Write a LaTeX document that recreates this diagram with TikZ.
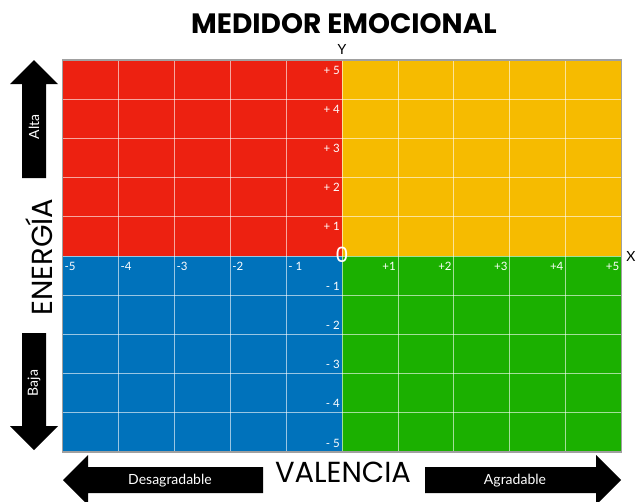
\documentclass[tikz,border=0pt]{standalone}
\usepackage{fontspec}
\setmainfont{Lato}
\newfontfamily\pop{Poppins}
\definecolor{qred}{RGB}{237,33,17}
\definecolor{qyel}{RGB}{246,187,0}
\definecolor{qblu}{RGB}{0,114,187}
\definecolor{qgrn}{RGB}{27,176,0}
\definecolor{qbor}{RGB}{160,160,160}
\tikzset{
  gridline/.style={white, opacity=0.6, line width=0.8pt},
  numlab/.style={white, font=\fontsize{11.5}{11.5}\selectfont, inner sep=0pt},
  bigarrow/.style={fill=black, draw=none},
  arrlab/.style={white, font=\fontsize{14}{14}\selectfont, inner sep=0pt},
  axlab/.style={black, font=\pop\fontsize{29}{29}\selectfont, inner sep=0pt}
}
\begin{document}
\begin{tikzpicture}[x=1pt,y=-1pt]
\useasboundingbox (0,0) rectangle (636,501);
\fill[white] (0,0) rectangle (636,501);
% quadrants
\fill[qred] (62.5,60) rectangle (342,256);
\fill[qyel] (342,60) rectangle (621.5,256);
\fill[qblu] (62.5,256) rectangle (342,452);
\fill[qgrn] (342,256) rectangle (621.5,452);
% grid
\foreach \i in {1,...,9} {
  \draw[gridline] ({62.5+55.9*\i},60) -- ({62.5+55.9*\i},452);
  \draw[gridline] (62.5,{60+39.2*\i}) -- (621.5,{60+39.2*\i});
}
\draw[qbor, line width=1.2pt] (62.5,60) rectangle (621.5,452);
% y labels
\foreach \k/\t in {0/+ 5,1/+ 4,2/+ 3,3/+ 2,4/+ 1} {
  \node[numlab, anchor=east] (yp\k) at (340,{70+39.2*\k}) {\t};
}
\foreach \k/\t in {1/- 1,2/- 2,3/- 3,4/- 4,5/- 5} {
  \node[numlab, anchor=east] (ym\k) at (340,{256+39.2*\k-9}) {\t};
}
% x labels
\foreach \k/\t in {0/-5,1/-4,2/-3,3/-2,4/- 1} {
  \node[numlab, anchor=west] (xm\k) at ({64.5+55.9*\k},266) {\t};
}
\foreach \k/\t in {1/+1,2/+2,3/+3,4/+4,5/+5} {
  \node[numlab, anchor=east] (xp\k) at ({342+55.9*\k-2},266) {\t};
}
\node[white, font=\pop\fontsize{21}{21}\selectfont, inner sep=0pt] (zero) at (342,255) {0};
\node[font=\fontsize{14}{14}\selectfont, inner sep=0pt] (xl) at (631,256) {X};
\node[font=\fontsize{14}{14}\selectfont, inner sep=0pt] (yl) at (342,49) {Y};
% title
\node[font=\pop\bfseries\fontsize{28}{28}\selectfont, inner sep=0pt] (title) at (344,24) {MEDIDOR EMOCIONAL};
\node[axlab] (val) at (343,472) {VALENCIA};
\node[axlab, rotate=90] (ene) at (39,257) {ENERGÍA};
% vertical arrows
\fill[bigarrow] (34,60) -- (58,84) -- (46,84) -- (46,178) -- (22,178) -- (22,84) -- (10,84) -- cycle;
\fill[bigarrow] (34,450) -- (58,426) -- (46,426) -- (46,333) -- (22,333) -- (22,426) -- (10,426) -- cycle;
\node[arrlab, rotate=90] (alta) at (34,127) {Alta};
\node[arrlab, rotate=90] (baja) at (34,383) {Baja};
% horizontal arrows
\fill[bigarrow] (63,480) -- (88,455) -- (88,467) -- (263,467) -- (263,493) -- (88,493) -- (88,505) -- cycle;
\fill[bigarrow] (621,480) -- (596,455) -- (596,467) -- (425,467) -- (425,493) -- (596,493) -- (596,505) -- cycle;
\node[arrlab] (des) at (170,481) {Desagradable};
\node[arrlab] (agr) at (515,481) {Agradable};
\end{tikzpicture}
\end{document}
